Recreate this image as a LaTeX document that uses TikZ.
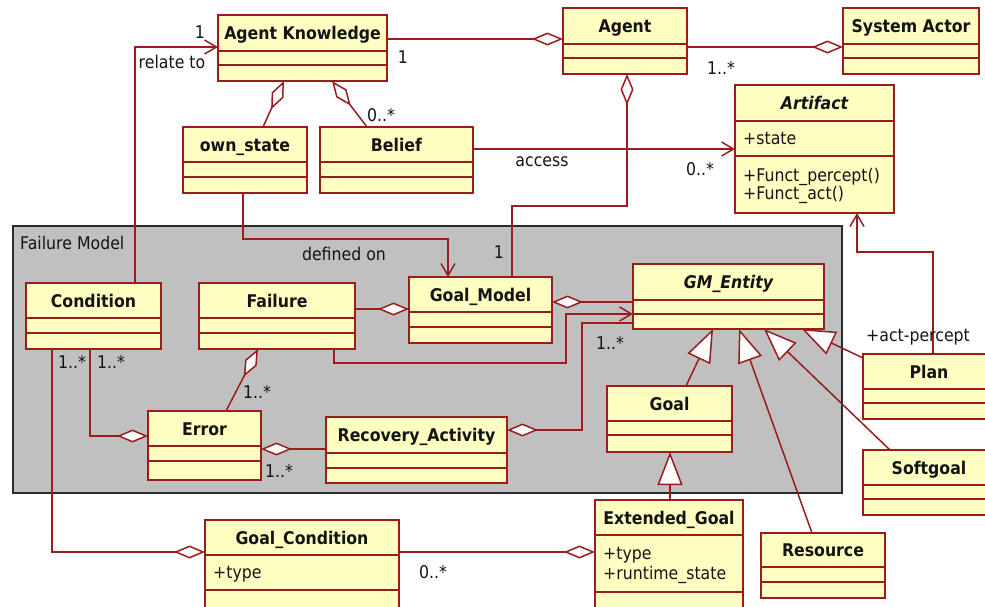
\documentclass[tikz,border=0pt]{standalone}
\usepackage{fontspec}
\setmainfont{DejaVu Sans}[FakeStretch=0.9]
\usetikzlibrary{arrows.meta,calc}

\definecolor{umlred}{HTML}{9A1C1C}
\definecolor{umlfill}{HTML}{FFFFC2}
\definecolor{pkgfill}{HTML}{C0C0C0}
\definecolor{pkgline}{HTML}{2A2A2A}
\definecolor{umltext}{HTML}{141414}

\newcommand\umlfont{\fontsize{17.5}{21}\selectfont}

\tikzset{
  classbox/.style={draw=umlred, fill=umlfill, line width=1.8pt, rectangle,
    inner sep=0pt, outer sep=0pt},
  classrule/.style={draw=umlred, line width=1.6pt},
  classtitle/.style={font=\umlfont\bfseries, text=umltext, inner sep=0pt,
    text height=13pt, text depth=0pt},
  member/.style={font=\umlfont, text=umltext, inner sep=0pt, anchor=west,
    text height=13pt, text depth=0pt},
  mult/.style={font=\umlfont, text=umltext, inner sep=0pt,
    text height=13pt, text depth=0pt},
  link/.style={draw=umlred, line width=1.5pt, line join=miter},
  agg/.style={-{Diamond[length=31pt,width=13pt,fill=white]}},
  aggstart/.style={{Diamond[length=31pt,width=13pt,fill=white]}-},
  nav/.style={-{Straight Barb[length=12pt,width=14pt]}},
  inherit/.style={-{Triangle[length=33pt,width=25pt,fill=white]}},
}

% class box: name, x1, y1, x2, y2, first rule, second rule, title
\newcommand\umlclass[8]{%
  \node[classbox, anchor=north west, minimum width={(#4)-(#2)},
        minimum height={(#5)-(#3)}] (#1) at (#2,#3) {};
  \draw[classrule] (#2,#6) -- (#4,#6) (#2,#7) -- (#4,#7);
  \node[classtitle] (#1-name) at ({(#2+#4)/2},{(#3+#6)/2}) {#8};
}

\begin{document}
\begin{tikzpicture}[x=1pt, y=-1pt]
\useasboundingbox (0,0) rectangle (985,606);
\clip (0,0) rectangle (985,606);

% package frame
\node[draw=pkgline, fill=pkgfill, line width=1.8pt, inner sep=0pt, outer sep=0pt,
      anchor=north west, minimum width=829, minimum height=267] (frame) at (13.3,225.7) {};
\node[member] (frame-label) at (20,243) {Failure Model};

% classes
\umlclass{ak}{218}{15}{387}{81}{51}{65}{Agent Knowledge}
\umlclass{agent}{563}{8}{687}{74}{44}{58}{Agent}
\umlclass{sysactor}{843}{8}{979}{74}{44}{58}{System Actor}
\umlclass{artifact}{735}{85}{894}{213}{121}{156}{\itshape Artifact}
\umlclass{ownstate}{183}{127}{307}{193}{162}{177}{own\_state}
\umlclass{belief}{320}{127}{473}{193}{162}{177}{Belief}
\umlclass{condition}{26}{283}{161}{349}{318}{333}{Condition}
\umlclass{failure}{199}{283}{355}{349}{318}{333}{Failure}
\umlclass{goalmodel}{409}{277}{552}{343}{312}{327}{Goal\_Model}
\umlclass{gmentity}{633}{264}{824}{329}{300}{314}{\itshape GM\_Entity}
\umlclass{plan}{863}{354}{995}{419}{389}{403}{Plan}
\umlclass{goal}{607}{386}{732}{452}{421}{435}{Goal}
\umlclass{error}{148}{411}{261}{480}{446}{461}{Error}
\umlclass{recovery}{326}{417}{507}{483}{453}{468}{Recovery\_Activity}
\umlclass{softgoal}{863}{450}{995}{515}{485}{499}{Softgoal}
\umlclass{goalcond}{205}{520}{399}{620}{555}{590}{Goal\_Condition}
\umlclass{extgoal}{595}{500}{743}{620}{535}{592}{Extended\_Goal}
\umlclass{resource}{761}{533}{885}{598}{567}{582}{Resource}

% members
\node[member] (artifact-a1) at (743,138) {+state};
\node[member] (artifact-o1) at (743,175) {+Funct\_percept()};
\node[member] (artifact-o2) at (743,193) {+Funct\_act()};
\node[member] (goalcond-a1) at (213,572) {+type};
\node[member] (extgoal-a1) at (603,553) {+type};
\node[member] (extgoal-a2) at (603,573) {+runtime\_state};

% associations and aggregations
\draw[link,agg] ($(ak.north east)+(0,24)$) -- ($(agent.north west)+(0,31)$);
\draw[link,agg] ($(agent.north east)+(0,39)$) -- ($(sysactor.north west)+(0,39)$);
\draw[link,agg] ($(ownstate.north west)+(80,0)$) -- ($(ak.south west)+(66,0)$);
\draw[link,agg] ($(belief.north west)+(47,0)$) -- ($(ak.south west)+(114,0)$);
\draw[link,nav] ($(belief.north east)+(0,22)$) -- ($(artifact.north west)+(0,64)$);
\draw[link,agg] ($(goalmodel.north west)+(103,0)$) -- ++(0,-71)
      -| ($(agent.south west)+(64,0)$);
\draw[link,nav] ($(ownstate.south west)+(60,0)$) -- ++(0,46)
      -| ($(goalmodel.north west)+(39,0)$);
\draw[link,nav] ($(condition.north west)+(109,0)$) |- ($(ak.north west)+(0,32)$);
\draw[link,agg] ($(failure.north east)+(0,26)$) -- ($(goalmodel.north west)+(0,32)$);
\draw[link,aggstart] ($(goalmodel.north east)+(0,25)$) -- ($(gmentity.north west)+(0,38)$);
\draw[link,nav] ($(failure.south west)+(135,0)$) |- ++(232,14)
      |- ($(gmentity.north west)+(0,50)$);
\draw[link,aggstart] ($(recovery.north east)+(0,13)$) -| ++(75,-107)
      -- ($(gmentity.north west)+(0,59)$);
\draw[link,agg] ($(condition.south west)+(64,0)$) |- ($(error.north west)+(0,25)$);
\draw[link,agg] ($(condition.south west)+(26,0)$) |- ($(goalcond.north west)+(0,32)$);
\draw[link,agg] ($(error.north west)+(78,0)$) -- ($(failure.south west)+(59,0)$);
\draw[link,aggstart] ($(error.north east)+(0,38)$) -- ($(recovery.north west)+(0,32)$);
\draw[link,agg] ($(goalcond.north east)+(0,32)$) -- ($(extgoal.north west)+(0,52)$);
\draw[link,nav] ($(plan.north west)+(70,0)$) |- ++(-76,-102)
      -- ($(artifact.south west)+(122,0)$);

% generalizations
\draw[link,inherit] ($(extgoal.north west)+(75,0)$) -- ($(goal.south west)+(63,0)$);
\draw[link,inherit] ($(goal.north west)+(79,0)$) -- ($(gmentity.south west)+(80,0)$);
\draw[link,inherit] ($(resource.north west)+(51,0)$) -- ($(gmentity.south west)+(106,0)$);
\draw[link,inherit] ($(softgoal.north west)+(27,0)$) -- ($(gmentity.south west)+(131,0)$);
\draw[link,inherit] ($(plan.north west)+(0,4)$) -- ($(gmentity.south west)+(169,0)$);

% role names and multiplicities
\node[mult] (m-ak-agent) at (403,57) {1};
\node[mult] (m-agent-actor) at (721,68) {1..*};
\node[mult] (m-belief) at (381,115) {0..*};
\node[mult] (l-access) at (542,160) {access};
\node[mult] (m-artifact) at (700,169) {0..*};
\node[mult] (m-gm-agent) at (499,252) {1};
\node[mult] (l-defined) at (344,254) {defined on};
\node[mult] (m-relate) at (200,32) {1};
\node[mult] (l-relate) at (172,62) {relate to};
\node[mult] (m-gmentity) at (610,343) {1..*};
\node[mult] (m-cond-err) at (111,362) {1..*};
\node[mult] (m-cond-gc) at (72,362) {1..*};
\node[mult] (m-fail-err) at (257,392) {1..*};
\node[mult] (m-err-rec) at (279,471) {1..*};
\node[mult] (m-gc-eg) at (433,572) {0..*};
\node[mult] (l-actpercept) at (918,335) {+act-percept};
\end{tikzpicture}
\end{document}
